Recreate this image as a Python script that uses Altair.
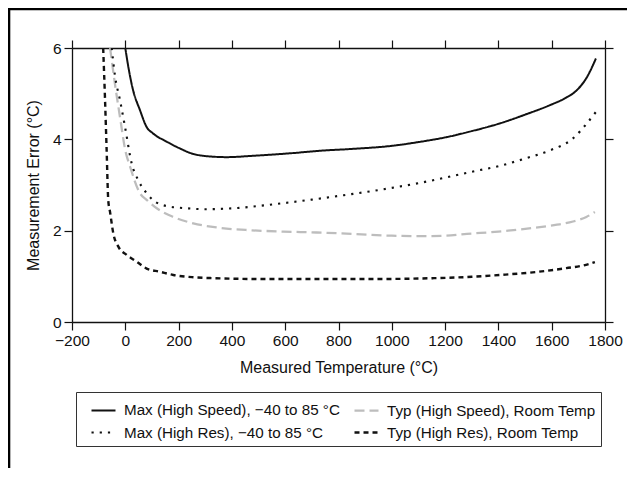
import altair as alt
import pandas as pd

series_names = [
    "Max (High Speed), −40 to 85 °C",
    "Typ (High Speed), Room Temp",
    "Max (High Res), −40 to 85 °C",
    "Typ (High Res), Room Temp",
]
# legend order (Vega fills the 2-column grid column by column)
legend_order = [series_names[0], series_names[2], series_names[1], series_names[3]]
series_colors = {"Max (High Speed), −40 to 85 °C": "#111111",
                 "Typ (High Speed), Room Temp": "#bdbdbd",
                 "Max (High Res), −40 to 85 °C": "#111111",
                 "Typ (High Res), Room Temp": "#111111"}
series_dashes = {"Max (High Speed), −40 to 85 °C": [1, 0],
                 "Typ (High Speed), Room Temp": [10, 5],
                 "Max (High Res), −40 to 85 °C": [2.2, 6],
                 "Typ (High Res), Room Temp": [5, 4]}
series_widths = {"Max (High Speed), −40 to 85 °C": 2,
                 "Typ (High Speed), Room Temp": 3,
                 "Max (High Res), −40 to 85 °C": 2.4,
                 "Typ (High Res), Room Temp": 2}

x_ticks = [-200, 0, 200, 400, 600, 800, 1000, 1200, 1400, 1600, 1800]
y_ticks = [0, 2, 4, 6]

max_hs_t = [0, 11, 29, 55, 80, 104, 155, 205, 255, 330, 381, 481, 631, 731, 850, 1004, 1100, 1207, 1300, 1406, 1500, 1594, 1650, 1695, 1732, 1766]
max_hs_v = [6.0, 5.6, 5.08, 4.64, 4.27, 4.13, 3.95, 3.80, 3.68, 3.62, 3.61, 3.64, 3.70, 3.75, 3.79, 3.86, 3.94, 4.05, 4.18, 4.35, 4.54, 4.75, 4.90, 5.08, 5.36, 5.77]

typ_hs_t = [-57, -39, -20, 0, 18, 55, 81, 118, 180, 255, 343, 468, 593, 718, 850, 1000, 1100, 1200, 1282, 1400, 1530, 1620, 1680, 1730, 1762]
typ_hs_v = [6.0, 5.22, 4.49, 3.76, 3.4, 2.82, 2.67, 2.49, 2.3, 2.16, 2.07, 2.01, 1.98, 1.96, 1.93, 1.89, 1.88, 1.89, 1.93, 1.98, 2.06, 2.13, 2.2, 2.3, 2.41]

max_hr_t = [-51, -39, -20, -1, 24, 49, 80, 104, 155, 231, 300, 404, 531, 618, 700, 800, 993, 1100, 1207, 1300, 1406, 1500, 1594, 1680, 1732, 1766]
max_hr_v = [6.0, 5.4, 4.86, 4.27, 3.47, 3.1, 2.82, 2.67, 2.54, 2.49, 2.47, 2.49, 2.56, 2.62, 2.68, 2.76, 2.93, 3.04, 3.17, 3.29, 3.42, 3.58, 3.76, 4.02, 4.35, 4.6]

typ_hr_t = [-83, -76, -70, -64, -57, -45, -26, 5, 43, 80, 130, 180, 255, 329, 531, 731, 907, 1157, 1300, 1406, 1550, 1655, 1720, 1762]
typ_hr_v = [6.0, 4.86, 3.76, 2.67, 2.4, 1.94, 1.65, 1.47, 1.32, 1.17, 1.10, 1.03, 0.98, 0.96, 0.94, 0.94, 0.94, 0.96, 0.99, 1.03, 1.1, 1.18, 1.24, 1.31]

rows = []
for name, ts, vs in [
    (series_names[0], max_hs_t, max_hs_v),
    (series_names[1], typ_hs_t, typ_hs_v),
    (series_names[2], max_hr_t, max_hr_v),
    (series_names[3], typ_hr_t, typ_hr_v),
]:
    for t, v in zip(ts, vs):
        rows.append({"series": name, "T": t, "E": v})
df = pd.DataFrame(rows)

x_scale = alt.Scale(domain=[-200, 1800], nice=False, zero=False)
y_scale = alt.Scale(domain=[0, 6], nice=False)

leg = alt.Legend(title=None)
lines = alt.Chart(df).mark_line(interpolate="monotone", clip=True).encode(
    x=alt.X("T:Q", scale=x_scale,
            axis=alt.Axis(values=x_ticks, format="d", labelOverlap=False, labelFlush=False,
                          title="Measured Temperature (°C)",
                          labelPadding=3, titlePadding=11)),
    y=alt.Y("E:Q", scale=y_scale,
            axis=alt.Axis(values=y_ticks, title="Measurement Error (°C)", labelFlush=False,
                          labelPadding=3, titlePadding=11)),
    color=alt.Color("series:N", sort=legend_order,
                    scale=alt.Scale(domain=legend_order,
                                    range=[series_colors[s] for s in legend_order]),
                    legend=leg),
    strokeDash=alt.StrokeDash("series:N", sort=legend_order,
                              scale=alt.Scale(domain=legend_order,
                                              range=[series_dashes[s] for s in legend_order]),
                              legend=leg),
    strokeWidth=alt.StrokeWidth("series:N", sort=legend_order,
                                scale=alt.Scale(domain=legend_order,
                                                range=[series_widths[s] for s in legend_order]),
                                legend=leg),
    order=alt.Order("T:Q"),
)

mirror = alt.Chart(df).mark_point(opacity=0).encode(
    x=alt.X("T:Q", scale=x_scale,
            axis=alt.Axis(orient="top", values=x_ticks, labels=False, title=None)),
    y=alt.Y("E:Q", scale=y_scale,
            axis=alt.Axis(orient="right", values=y_ticks, labels=False, title=None)),
)

frame = alt.Chart(alt.Data(values=[{}])).mark_rect(
    filled=False, stroke="#000000", strokeWidth=2.6, clip=False
).encode(
    x=alt.value(-63), x2=alt.value(700),
    y=alt.value(-39), y2=alt.value(600),
)

chart = alt.layer(lines, mirror, frame).resolve_axis(
    x="independent", y="independent"
).properties(
    width=533, height=274,
    autosize=alt.AutoSizeParams(type="none"),
    padding={"left": 64, "top": 40, "right": 22, "bottom": 146},
).configure_view(stroke=None).configure_axis(
    grid=False,
    domainColor="#111111", domainWidth=1.3,
    tickColor="#111111", tickWidth=1.2, tickSize=8,
    labelFont="Liberation Sans", labelFontSize=15.5, labelColor="#111111",
    titleFont="Liberation Sans", titleFontSize=16, titleFontWeight="normal",
    titleColor="#111111",
).configure_legend(
    orient="none", legendX=4, legendY=344, columns=2,
    strokeColor="#333333", padding=5, symbolOffset=9,
    symbolType="stroke", symbolSize=576, rowPadding=0, columnPadding=4,
    labelFont="Liberation Sans", labelFontSize=15.2, labelColor="#111111",
    labelLimit=400, labelOffset=7,
)

chart.save("out.html", embed_options={"renderer": "svg", "actions": False})
